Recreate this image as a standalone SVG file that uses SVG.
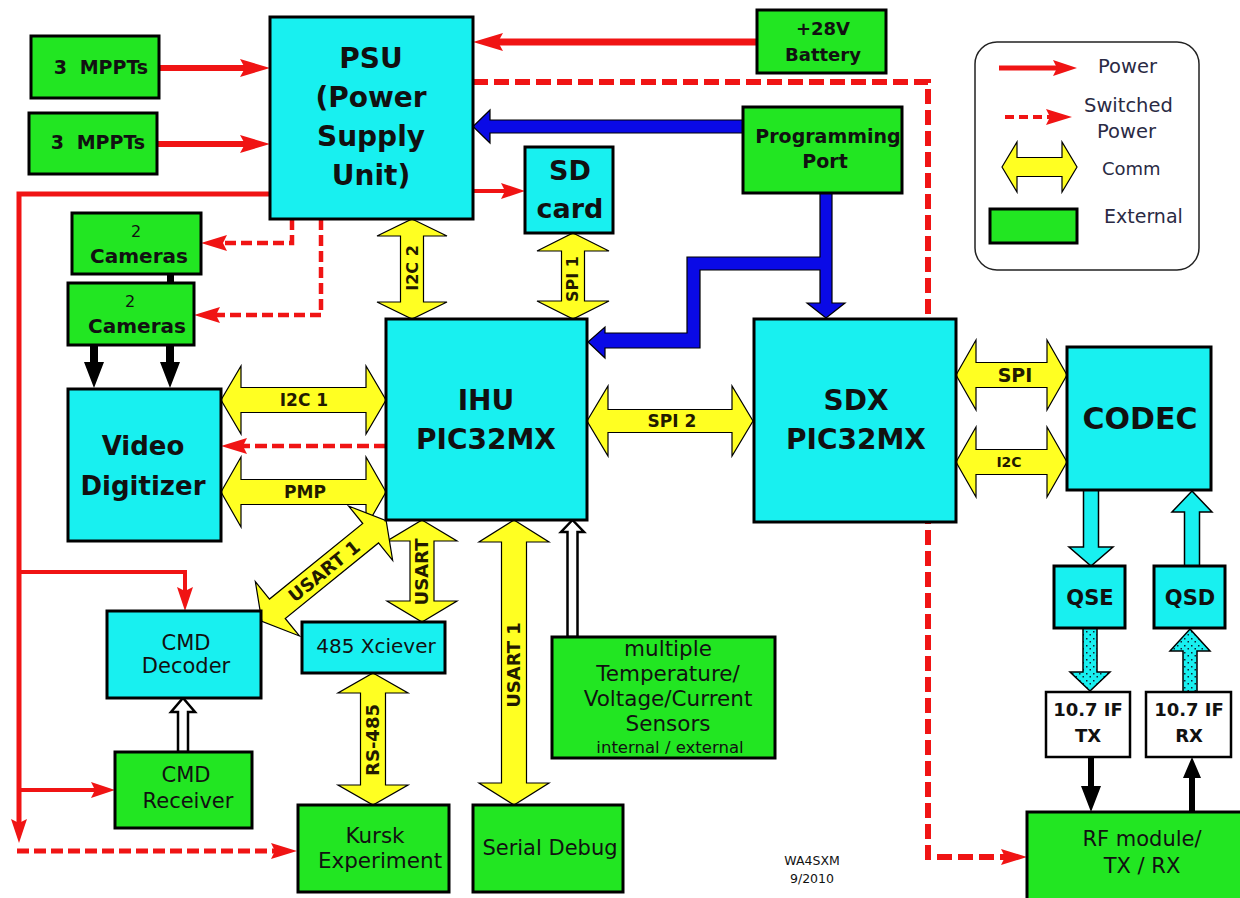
<svg xmlns="http://www.w3.org/2000/svg" width="1240" height="898" viewBox="0 0 1240 898">
<style>
.ext{fill:#22E622;stroke:#000;stroke-width:3}
.int{fill:#18F0F0;stroke:#000;stroke-width:3}
.wht{fill:#fff;stroke:#000;stroke-width:2.5}
.t{font-family:'DejaVu Sans','Liberation Sans',sans-serif;fill:#111;text-anchor:middle}
.b{font-weight:bold}
.lbl{font-family:'DejaVu Sans','Liberation Sans',sans-serif;font-weight:bold;fill:#221a00;text-anchor:middle}
.leg{font-family:'DejaVu Sans','Liberation Sans',sans-serif;fill:#2a2a44}
.pw{fill:none;stroke:#F01414}
.sw{fill:none;stroke:#F01414}
.yel{fill:#FFFF22;stroke:#000;stroke-width:1.2}
.blu{fill:#0A0AE6;stroke:#000;stroke-width:1.2}
.blk{fill:#000}
.hol{fill:#fff;stroke:#000;stroke-width:2.5}
.cy{fill:#18F0F0;stroke:#000;stroke-width:1.5}
.dot{fill:url(#speck);stroke:#000;stroke-width:1.5}
</style>
<defs>
<marker id="pA" markerUnits="userSpaceOnUse" markerWidth="30" markerHeight="18" refX="14" refY="9" orient="auto"><path d="M0,0 L30,9 L0,18 L5,9 z" fill="#F01414"/></marker>
<marker id="pB" markerUnits="userSpaceOnUse" markerWidth="24" markerHeight="16" refX="10" refY="8" orient="auto"><path d="M0,0 L24,8 L0,16 L4,8 z" fill="#F01414"/></marker>
<marker id="sA" markerUnits="userSpaceOnUse" markerWidth="26" markerHeight="16" refX="12" refY="8" orient="auto"><path d="M0,0 L26,8 L0,16 L4,8 z" fill="#F01414"/></marker>
<pattern id="speck" patternUnits="userSpaceOnUse" width="7" height="7"><rect width="7" height="7" fill="#18F0F0"/><rect x="1" y="1" width="1.5" height="1.5" fill="#123"/><rect x="4.5" y="4" width="1.5" height="1.5" fill="#123"/></pattern>
</defs>
<rect width="1240" height="898" fill="#fff"/>

<g id="connectors">
<!-- power -->
<path class="pw" stroke-width="6" d="M159,68 H254" marker-end="url(#pA)"/>
<path class="pw" stroke-width="6" d="M157,144 H254" marker-end="url(#pA)"/>
<path class="pw" stroke-width="7" d="M757,42 H489" marker-end="url(#pA)"/>
<path class="pw" stroke-width="4" d="M473,191 H511" marker-end="url(#pB)"/>
<path class="pw" stroke-width="5" d="M270,194 H19 V829" marker-end="url(#pB)"/>
<path class="pw" stroke-width="4" d="M19,572 H185 V597" marker-end="url(#pB)"/>
<path class="pw" stroke-width="4" d="M19,790 H101" marker-end="url(#pB)"/>
<!-- switched power -->
<path class="sw" stroke-width="5" stroke-dasharray="12 5" d="M17,851 H283" marker-end="url(#sA)"/>
<path class="sw" stroke-width="6" stroke-dasharray="15 6" d="M473,82 H928 V857 H1013" marker-end="url(#sA)"/>
<path class="sw" stroke-width="4.5" stroke-dasharray="11 5" d="M292,219 V243 H215" marker-end="url(#sA)"/>
<path class="sw" stroke-width="4.5" stroke-dasharray="11 5" d="M321,219 V315 H208" marker-end="url(#sA)"/>
<path class="sw" stroke-width="4.5" stroke-dasharray="12 5" d="M386,446 H235" marker-end="url(#sA)"/>
<!-- programming (blue) -->
<polygon class="blu" points="743,120 490,120 490,110 473,126.5 490,143 490,133 743,133"/>
<polygon class="blu" points="820,193 832,193 832,303 845,303 826,318 807,303 820,303 820,270 700,270 700,348 605,348 605,358 588,342 605,327 605,333 687,333 687,257 820,257"/>
<!-- comm (yellow) -->
<polygon class="yel" points="412,219 447,236 423.5,236 423.5,302 447,302 412,319 377,302 400.5,302 400.5,236 377,236"/>
<text class="lbl" font-size="16" transform="translate(418,268) rotate(-90)">I2C 2</text>
<polygon class="yel" points="573,233 609,251 584.5,251 584.5,301 609,301 573,319 537,301 561.5,301 561.5,251 537,251"/>
<text class="lbl" font-size="16" transform="translate(578,279) rotate(-90)">SPI 1</text>
<polygon class="yel" points="221,400 241,366 241,387.5 366,387.5 366,366 386,400 366,434 366,412.5 241,412.5 241,434"/>
<text class="lbl" font-size="17" x="304" y="406">I2C 1</text>
<polygon class="yel" points="221,492 241,457 241,479.5 366,479.5 366,457 386,492 366,527 366,504.5 241,504.5 241,527"/>
<text class="lbl" font-size="17" x="305" y="498">PMP</text>
<polygon class="yel" points="587,421 608,386 608,409.5 732,409.5 732,386 753,421 732,456 732,432.5 608,432.5 608,456"/>
<text class="lbl" font-size="17" x="672" y="427">SPI 2</text>
<polygon class="yel" points="956,375 976,340 976,362.5 1047,362.5 1047,340 1067,375 1047,410 1047,387.5 976,387.5 976,410"/>
<text class="lbl" font-size="19" x="1015" y="382">SPI</text>
<polygon class="yel" points="956,462 976,427 976,449.5 1047,449.5 1047,427 1067,462 1047,497 1047,474.5 976,474.5 976,497"/>
<text class="lbl" font-size="14" x="1009" y="467">I2C</text>
<polygon class="yel" points="422,520 457,541 434,541 434,601 457,601 422,622 387,601 410,601 410,541 387,541"/>
<text class="lbl" font-size="18" transform="translate(428,572) rotate(-90)">USART</text>
<polygon class="yel" points="373,673 408,693 385.5,693 385.5,785 408,785 373,805 338,785 360.5,785 360.5,693 338,693"/>
<text class="lbl" font-size="18" transform="translate(379,740) rotate(-90)">RS-485</text>
<polygon class="yel" points="514,520 549,542 526.5,542 526.5,783 549,783 514,805 479,783 501.5,783 501.5,542 479,542"/>
<text class="lbl" font-size="18" transform="translate(520,665) rotate(-90)">USART 1</text>
<g transform="translate(324,571) rotate(-39)">
<polygon class="yel" points="-80,0 -60,-35 -60,-12.5 60,-12.5 60,-35 80,0 60,35 60,12.5 -60,12.5 -60,35"/>
<text class="lbl" font-size="18" x="0" y="6.5">USART 1</text>
</g>
<!-- video (black) -->
<polygon class="blk" points="90,345 98,345 98,362 104,362 94,388 84,362 90,362"/>
<polygon class="blk" points="166,345 174,345 174,362 180,362 170,388 160,362 166,362"/>
<rect class="blk" x="167" y="273" width="7" height="11"/>
<!-- data (hollow) -->
<polygon class="hol" points="567.5,637 567.5,532 561,532 572.5,520 584,532 577.5,532 577.5,637"/>
<polygon class="hol" points="178,752 178,712 171,712 183,698 195,712 188,712 188,752"/>
<!-- RF chain -->
<polygon class="cy" points="1083.5,490 1098.5,490 1098.5,547 1113,547 1091,566 1069,547 1083.5,547"/>
<polygon class="cy" points="1192,491 1212,512 1199.5,512 1199.5,566 1184.5,566 1184.5,512 1172,512"/>
<polygon class="dot" points="1083,628 1097,628 1097,672 1110,672 1090,691 1070,672 1083,672"/>
<polygon class="dot" points="1190,629 1210,651 1197,651 1197,692 1183,692 1183,651 1170,651"/>
<polygon class="blk" points="1088,757 1094,757 1094,786 1101,786 1091,812 1081,786 1088,786"/>
<polygon class="blk" points="1192,757 1201,778 1195,778 1195,812 1189,812 1189,778 1183,778"/>
</g>

<g id="mppt1"><rect class="ext" x="31" y="36" width="128" height="62"/><text class="t b" font-size="19" x="101" y="74" word-spacing="6">3 MPPTs</text></g>
<g id="mppt2"><rect class="ext" x="29" y="113" width="128" height="61"/><text class="t b" font-size="19" x="98" y="149" word-spacing="6">3 MPPTs</text></g>
<g id="psu"><rect class="int" x="270" y="17" width="203" height="202"/>
<text class="t b" font-size="28" x="371" y="68">PSU</text>
<text class="t b" font-size="28" x="371" y="107">(Power</text>
<text class="t b" font-size="28" x="371" y="146">Supply</text>
<text class="t b" font-size="28" x="371" y="185">Unit)</text></g>
<g id="battery"><rect class="ext" x="757" y="10" width="129" height="63"/>
<text class="t b" font-size="18" x="823" y="35">+28V</text>
<text class="t b" font-size="18" x="823" y="61">Battery</text></g>
<g id="progport"><rect class="ext" x="743" y="107" width="159" height="86"/>
<text class="t b" font-size="19" x="828" y="143">Programming</text>
<text class="t b" font-size="19" x="825" y="168">Port</text></g>
<g id="sdcard"><rect class="int" x="525" y="147" width="88" height="86"/>
<text class="t b" font-size="27" x="570" y="180">SD</text>
<text class="t b" font-size="27" x="570" y="218">card</text></g>
<g id="cameras1"><rect class="ext" x="72" y="213" width="129" height="61"/>
<text class="t" font-size="16" x="136" y="237">2</text>
<text class="t b" font-size="20" x="139" y="263">Cameras</text></g>
<g id="cameras2"><rect class="ext" x="68" y="283" width="126" height="62"/>
<text class="t" font-size="16" x="130" y="307">2</text>
<text class="t b" font-size="20" x="137" y="333">Cameras</text></g>
<g id="videodig"><rect class="int" x="68" y="389" width="153" height="152"/>
<text class="t b" font-size="26" x="143" y="455">Video</text>
<text class="t b" font-size="26" x="143" y="495">Digitizer</text></g>
<g id="ihu"><rect class="int" x="386" y="319" width="201" height="201"/>
<text class="t b" font-size="28" x="486" y="410">IHU</text>
<text class="t b" font-size="28" x="486" y="449">PIC32MX</text></g>
<g id="sdx"><rect class="int" x="754" y="319" width="202" height="203"/>
<text class="t b" font-size="28" x="856" y="410">SDX</text>
<text class="t b" font-size="28" x="856" y="449">PIC32MX</text></g>
<g id="codec"><rect class="int" x="1067" y="347" width="144" height="143"/>
<text class="t b" font-size="30" x="1140" y="429">CODEC</text></g>
<g id="qse"><rect class="int" x="1054" y="566" width="71" height="62"/>
<text class="t b" font-size="21" x="1090" y="605">QSE</text></g>
<g id="qsd"><rect class="int" x="1154" y="566" width="71" height="62"/>
<text class="t b" font-size="21" x="1190" y="605">QSD</text></g>
<g id="iftx"><rect class="wht" x="1046" y="692" width="84" height="65"/>
<text class="t b" font-size="18" x="1088" y="716" fill="#2a1a0a">10.7 IF</text>
<text class="t b" font-size="18" x="1088" y="742">TX</text></g>
<g id="ifrx"><rect class="wht" x="1146" y="692" width="85" height="65"/>
<text class="t b" font-size="18" x="1189" y="716">10.7 IF</text>
<text class="t b" font-size="18" x="1189" y="742">RX</text></g>
<g id="rfmodule"><rect class="ext" x="1027" y="812" width="230" height="100"/>
<text class="t" font-size="21" x="1142" y="846">RF module/</text>
<text class="t" font-size="21" x="1142" y="873">TX / RX</text></g>
<g id="cmddecoder"><rect class="int" x="107" y="611" width="154" height="87"/>
<text class="t" font-size="21" x="186" y="650">CMD</text>
<text class="t" font-size="21" x="186" y="673">Decoder</text></g>
<g id="cmdreceiver"><rect class="ext" x="115" y="752" width="137" height="76"/>
<text class="t" font-size="21" x="186" y="782">CMD</text>
<text class="t" font-size="21" x="188" y="808">Receiver</text></g>
<g id="xciever"><rect class="int" x="302" y="622" width="143" height="51"/>
<text class="t" font-size="20" x="376" y="653">485 Xciever</text></g>
<g id="kursk"><rect class="ext" x="298" y="805" width="151" height="87"/>
<text class="t" font-size="21.5" x="375" y="843">Kursk</text>
<text class="t" font-size="21.5" x="380" y="868">Experiment</text></g>
<g id="serialdebug"><rect class="ext" x="473" y="805" width="150" height="87"/>
<text class="t" font-size="21" x="550" y="855">Serial Debug</text></g>
<g id="sensors"><rect class="ext" x="552" y="637" width="223" height="121"/>
<text class="t" font-size="21.5" x="668" y="656">multiple</text>
<text class="t" font-size="21.5" x="668" y="681">Temperature/</text>
<text class="t" font-size="21.5" x="668" y="706">Voltage/Current</text>
<text class="t" font-size="21.5" x="668" y="731">Sensors</text>
<text class="t" font-size="16.5" x="670" y="753">internal / external</text></g>

<g id="legend">
<rect x="975" y="42" width="224" height="228" rx="22" fill="#fff" stroke="#222" stroke-width="1.5"/>
<path class="pw" stroke-width="5" d="M999,68 H1063" marker-end="url(#pB)"/>
<text class="leg" font-size="19.5" x="1098" y="73">Power</text>
<path class="sw" stroke-width="4" stroke-dasharray="9 5" d="M1005,117 H1058" marker-end="url(#sA)"/>
<text class="leg" font-size="19.5" x="1084" y="112">Switched</text>
<text class="leg" font-size="19.5" x="1097" y="138">Power</text>
<polygon class="yel" points="1002,167 1017,142 1017,157.5 1062,157.5 1062,142 1077,167 1062,192 1062,176.5 1017,176.5 1017,192"/>
<text class="leg" font-size="18" x="1102" y="175">Comm</text>
<rect class="ext" x="990" y="209" width="87" height="34"/>
<text class="leg" font-size="19" x="1104" y="223">External</text>
</g>
<g id="credit">
<text class="t" font-size="12.5" x="812" y="865" fill="#556">WA4SXM</text>
<text class="t" font-size="12.5" x="812" y="883" fill="#556">9/2010</text>
</g>
</svg>
